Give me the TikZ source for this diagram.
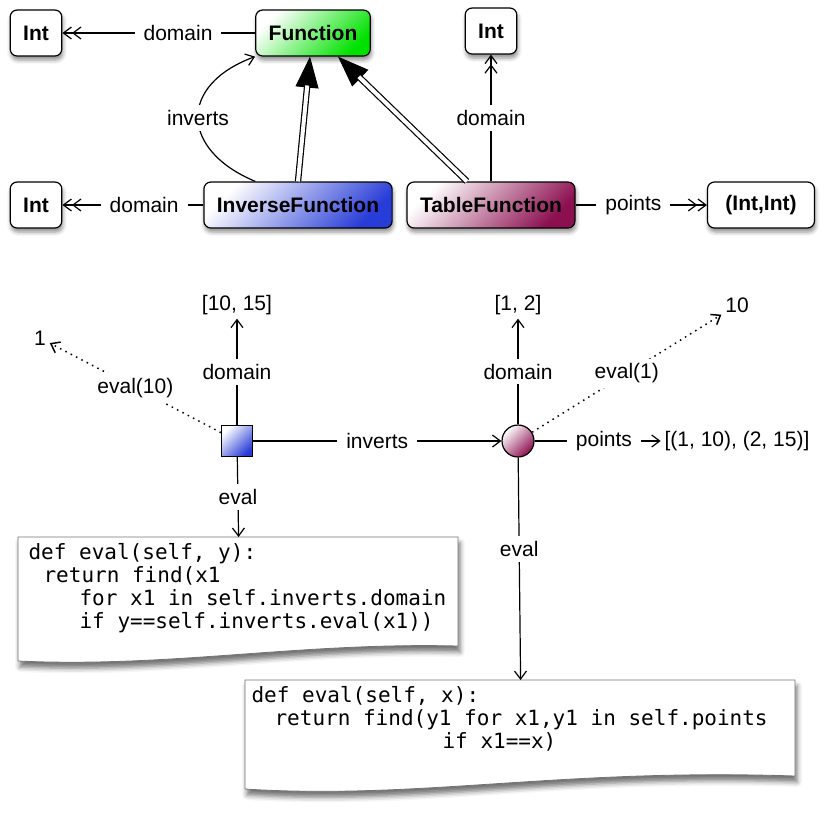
\documentclass[tikz,border=0pt]{standalone}
\usepackage{fontspec}
\setmainfont{Liberation Sans}
\newfontfamily\codefont{DejaVu Sans Mono}
\usepackage{xcolor}
\usepackage{tikz}
\usetikzlibrary{arrows.meta,shadows.blur}

\definecolor{fungreen}{RGB}{0,225,0}
\definecolor{invblue}{RGB}{40,60,215}
\definecolor{tabred}{RGB}{140,15,80}

\newcommand{\codespaces}{\spaceskip=0.602em\relax}

\begin{document}
\begin{tikzpicture}[x=1pt,y=-1pt,line width=1.2pt,
    >={Straight Barb[length=8pt,width=12pt]},
    font=\fontsize{21}{25}\selectfont,
    cls/.style={draw,rounded corners=7pt,minimum height=46pt,inner xsep=13pt,
      fill=white,font=\bfseries\fontsize{21}{25}\selectfont,
      blur shadow={shadow xshift=1pt,shadow yshift=-4pt,shadow blur radius=4pt,shadow opacity=45}},
    tint/.style={top color=white,bottom color=#1,shading angle=45},
    lbl/.style={fill=white,inner xsep=9pt,inner ysep=5pt},
    gen/.style={line width=1pt,-{Triangle[length=31pt,width=23pt]}},
    genline/.style={double,double distance=4pt,shorten >=29pt},
    dots/.style={line width=1.5pt,dash pattern=on 1.5pt off 4.5pt},
    doc/.style={draw=black!55,line width=0.8pt,fill=white,
      blur shadow={shadow xshift=2pt,shadow yshift=-6pt,shadow blur radius=5pt,shadow opacity=55}},
    code/.style={font=\codefont\fontsize{21}{23}\selectfont,
      align=left,inner ysep=6pt,anchor=north west}]

\useasboundingbox (0,0) rectangle (830,812);

% class diagram
\node[cls] (Int_1) at (36,33) {Int};
\node[cls,tint=fungreen] (Fun) at (313,33) {Function};
\node[cls] (Int_3) at (491,31) {Int};
\node[cls] (Int_2) at (36,205) {Int};
\node[cls,tint=invblue] (Inv) at (298,205) {InverseFunction};
\node[cls,tint=tabred] (Tab) at (491,205) {TableFunction};
\node[cls,minimum width=107pt] (Pair) at (761,205) {(Int,Int)};

\path
    (Fun) edge[->>] node[lbl,pos=.4] {domain} (Int_1)
    (Inv) edge[->>] node[lbl,pos=.42] {domain} (Int_2)
    (Tab) edge[->>] node[lbl] {domain} (Int_3)
    (Tab) edge[->>] node[lbl,pos=.44] {points} (Pair);

\draw[->] ([xshift=52pt]Inv.north west) .. controls (180,150) and (178,85) .. (Fun.south west)
    node[lbl,pos=.5] {inverts};

% subclass arrows
\draw[gen] (Inv.north) -- ([xshift=-3pt]Fun.south);
\draw[genline] (Inv.north) -- ([xshift=-3pt]Fun.south);
\draw[gen] ([xshift=-24pt]Tab.north) -- ([xshift=25pt]Fun.south);
\draw[genline] ([xshift=-24pt]Tab.north) -- ([xshift=25pt]Fun.south);

% object diagram
\draw[doc] (18,537) -- (458,537) -- (458,646) .. controls (300,642) and (170,668) .. (18,661) -- cycle;
\draw[doc] (245,680) -- (795,680) -- (795,776) .. controls (560,768) and (420,800) .. (245,789) -- cycle;

\node[code,inner xsep=10pt,text width=420pt] (C_1) at (18,537)
    {\codespaces\mbox{def eval(self, y):}\\
     \mbox{\hspace*{15pt}return find(x1}\\
     \mbox{\hspace*{51pt}for x1 in self.inverts.domain}\\
     \mbox{\hspace*{51pt}if y==self.inverts.eval(x1))}};
\node[code,inner xsep=6pt,text width=538pt] (C_2) at (245,680)
    {\codespaces\mbox{def eval(self, x):}\\
     \mbox{\hspace*{23pt}return find(y1 for x1,y1 in self.points}\\
     \mbox{\hspace*{191pt}if x1==x)}};

\node[draw,minimum size=31pt,inner sep=0pt,tint=invblue] (Sq) at (237,441) {};
\node[draw,circle,minimum size=32pt,inner sep=0pt,tint=tabred] (Ci) at (518,441) {};

\node (One) at (40,338) {1};
\node (D_1) at (237,305) {[10, 15]};
\node (D_2) at (518,305) {[1, 2]};
\node (Ten) at (737,305) {10};
\node (Pts) at (737,441) {[(1, 10), (2, 15)]};

\path[->]
    (Sq) edge node[lbl] {domain} (D_1)
    (Sq) edge node[lbl] {eval} (C_1.north)
    (Sq) edge node[lbl] {inverts} (Ci)
    (Sq) edge[dots] node[lbl] {eval(10)} (One)
    (Ci) edge node[lbl] {domain} (D_2)
    (Ci) edge node[lbl,pos=.55] {points} (Pts)
    (Ci) edge node[lbl,pos=.41] {eval} (C_2.north)
    (Ci) edge[dots] node[lbl] {eval(1)} (Ten);

\end{tikzpicture}
\end{document}
